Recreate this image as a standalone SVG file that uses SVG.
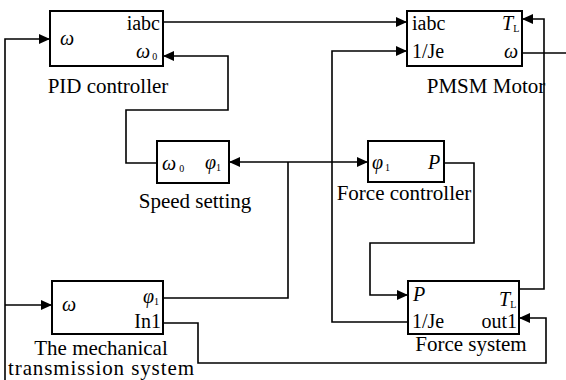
<svg xmlns="http://www.w3.org/2000/svg" width="566" height="380" viewBox="0 0 566 380">
<style>
  .box{fill:#fff;stroke:#000;stroke-width:2}
  .w{fill:none;stroke:#000;stroke-width:1.6}
  text{font-family:"Liberation Serif","Times New Roman",serif;font-size:20px;fill:#000}
  .it{font-style:italic}
  .sub{font-size:10px;font-style:normal}
  .lbl{text-anchor:middle;font-size:21px}
  .r{text-anchor:end}
</style>
<defs>
  <marker id="ah" markerUnits="userSpaceOnUse" markerWidth="12" markerHeight="12" refX="11" refY="6" orient="auto-start-reverse">
    <path d="M0,1 L11,6 L0,11 z" fill="#000"/>
  </marker>
</defs>
<g id="connectors">
  <polyline class="w" points="5,380 5,39 50,39" marker-end="url(#ah)"/>
  <polyline class="w" points="5,305 52,305" marker-end="url(#ah)"/>
  <polyline class="w" points="163,22 407,22" marker-end="url(#ah)"/>
  <polyline class="w" points="522,53 566,53"/>
  <polyline class="w" points="157,163 126,163 126,110 228,110 228,56 163,56" marker-end="url(#ah)"/>
  <polyline class="w" points="229,162 368,162" marker-start="url(#ah)" marker-end="url(#ah)"/>
  <polyline class="w" points="163,298 288,298 288,162"/>
  <polyline class="w" points="408,322 332,322 332,51 407,51" marker-end="url(#ah)"/>
  <polyline class="w" points="444,163 474,163 474,243 370,243 370,295 408,295" marker-end="url(#ah)"/>
  <polyline class="w" points="519,289 544,289 544,19 522,19" marker-end="url(#ah)"/>
  <polyline class="w" points="163,323 198,323 198,363 546,363 546,318 519,318" marker-end="url(#ah)"/>
</g>
<g id="pid">
  <rect class="box" x="50" y="11" width="113" height="55"/>
  <text class="r" x="160" y="30">iabc</text>
  <text class="it" x="60" y="45">ω</text>
  <text class="it" x="136" y="58">ω<tspan class="sub" dx="2" dy="2">0</tspan></text>
  <text class="lbl" x="108" y="93">PID controller</text>
</g>
<g id="pmsm">
  <rect class="box" x="407" y="11" width="115" height="55"/>
  <text x="412" y="30">iabc</text>
  <text x="412" y="58">1/Je</text>
  <text class="it" x="502" y="30">T<tspan class="sub" dy="2">L</tspan></text>
  <text class="it r" x="518" y="58">ω</text>
  <text class="lbl" x="486" y="93">PMSM Motor</text>
</g>
<g id="speed">
  <rect class="box" x="157" y="141" width="72" height="42"/>
  <text class="it" x="162" y="170">ω<tspan class="sub" dx="3" dy="2">0</tspan></text>
  <text class="it" x="205" y="169">φ<tspan class="sub" dy="2">1</tspan></text>
  <text class="lbl" x="195" y="208">Speed setting</text>
</g>
<g id="forcectrl">
  <rect class="box" x="368" y="141" width="76" height="41"/>
  <text class="it" x="372" y="169">φ<tspan class="sub" dx="2" dy="2">1</tspan></text>
  <text class="it" x="428" y="169">P</text>
  <text class="lbl" x="404" y="200">Force controller</text>
</g>
<g id="forcesys">
  <rect class="box" x="408" y="281" width="111" height="53"/>
  <text class="it" x="413" y="301">P</text>
  <text class="it" x="499" y="306">T<tspan class="sub" dy="2">L</tspan></text>
  <text x="412" y="328">1/Je</text>
  <text class="r" x="517" y="328">out1</text>
  <text class="lbl" x="471" y="351">Force system</text>
</g>
<g id="mech">
  <rect class="box" x="52" y="281" width="111" height="53"/>
  <text class="it" x="62" y="311">ω</text>
  <text class="it" x="143" y="303">φ<tspan class="sub" dy="2">1</tspan></text>
  <text class="r" x="161" y="328">In1</text>
  <text class="lbl" x="101" y="355">The mechanical</text>
  <text class="lbl" x="101" y="375" textLength="186" lengthAdjust="spacing">transmission system</text>
</g>
</svg>
